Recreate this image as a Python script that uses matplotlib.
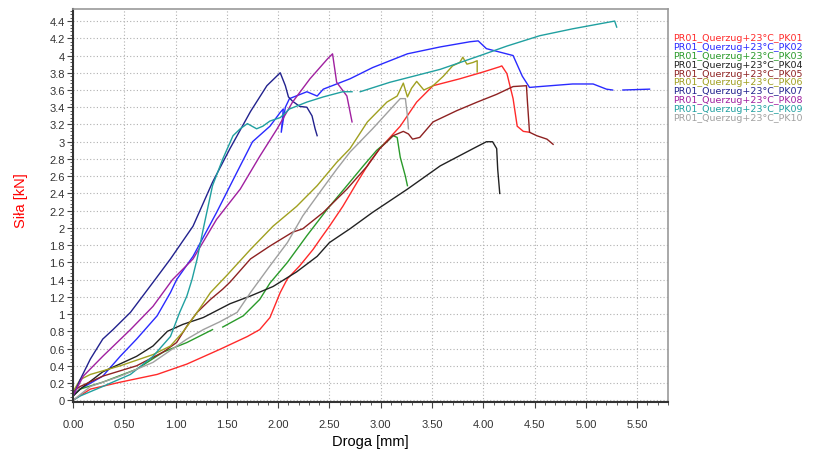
import numpy as np
import matplotlib
matplotlib.use("Agg")
import matplotlib.pyplot as plt
from matplotlib.ticker import AutoMinorLocator, MultipleLocator, FuncFormatter

plt.rcParams["font.family"] = ["Liberation Sans", "DejaVu Sans"]

nan = np.nan

# Droga [mm] / Siła [kN]
pk01_x = [0.00, 0.17, 0.46, 0.82, 1.11, 1.43, 1.70, 1.82, 1.92, 2.02, 2.09, 2.21, 2.34, 2.41, 2.50, 2.63, 2.77, 2.89, 2.99, 3.19, 3.35, 3.51, 3.77, 4.00, 4.16, 4.18, 4.23, 4.29, 4.33, 4.39, 4.45]
pk01_y = [0.00, 0.13, 0.21, 0.30, 0.42, 0.59, 0.74, 0.82, 0.96, 1.25, 1.41, 1.56, 1.75, 1.87, 2.02, 2.25, 2.53, 2.76, 2.92, 3.18, 3.46, 3.65, 3.73, 3.81, 3.87, 3.88, 3.79, 3.50, 3.18, 3.12, 3.11]

pk02_x = [0.00, 0.07, 0.29, 0.46, 0.62, 0.82, 0.95, 1.01, 1.17, 1.40, 1.60, 1.75, 1.92, 2.02, 2.05, 2.03, 2.07, 2.11, 2.28, 2.38, 2.44, 2.57, 2.70, 2.92, 3.26, 3.58, 3.87, 3.95, 4.03, 4.29, 4.38, 4.45, 4.55, 4.87, 5.07, 5.20, 5.26, nan, 5.36, 5.62]
pk02_y = [0.05, 0.13, 0.28, 0.51, 0.71, 0.98, 1.25, 1.40, 1.67, 2.18, 2.65, 3.00, 3.18, 3.34, 3.38, 3.11, 3.40, 3.50, 3.58, 3.53, 3.61, 3.67, 3.73, 3.86, 4.02, 4.10, 4.16, 4.17, 4.08, 4.00, 3.76, 3.63, 3.64, 3.67, 3.67, 3.61, 3.60, nan, 3.60, 3.61]

pk03_x = [0.00, 0.07, 0.29, 0.62, 0.88, 1.11, 1.36, nan, 1.46, 1.66, 1.82, 1.92, 2.09, 2.28, 2.48, 2.67, 2.83, 2.96, 3.06, 3.12, 3.16, 3.19, 3.24, 3.26]
pk03_y = [0.05, 0.13, 0.21, 0.36, 0.56, 0.67, 0.82, nan, 0.85, 0.98, 1.17, 1.36, 1.60, 1.91, 2.22, 2.49, 2.72, 2.90, 3.00, 3.07, 3.05, 2.82, 2.60, 2.49]

pk04_x = [0.00, 0.07, 0.29, 0.62, 0.78, 0.92, 1.07, 1.27, 1.53, 1.73, 1.95, 2.18, 2.38, 2.50, 2.70, 2.92, 3.26, 3.58, 3.90, 4.03, 4.09, 4.13, 4.14, 4.16]
pk04_y = [0.05, 0.13, 0.33, 0.51, 0.63, 0.80, 0.88, 0.96, 1.12, 1.21, 1.32, 1.49, 1.67, 1.83, 1.99, 2.18, 2.45, 2.72, 2.92, 3.00, 3.00, 2.92, 2.68, 2.40]

pk05_x = [0.00, 0.07, 0.29, 0.62, 0.88, 1.01, 1.11, 1.21, 1.34, 1.46, 1.53, 1.73, 1.92, 2.14, 2.24, 2.44, 2.67, 2.87, 2.99, 3.12, 3.22, 3.27, 3.31, 3.38, 3.51, 3.74, 3.94, 4.13, 4.29, 4.42, 4.43, 4.45, 4.52, 4.62, 4.68]
pk05_y = [0.10, 0.16, 0.28, 0.40, 0.56, 0.67, 0.86, 1.02, 1.17, 1.29, 1.37, 1.64, 1.79, 1.95, 1.99, 2.18, 2.45, 2.72, 2.92, 3.07, 3.12, 3.09, 3.03, 3.05, 3.23, 3.36, 3.46, 3.55, 3.64, 3.65, 3.46, 3.11, 3.07, 3.03, 2.97]

pk06_x = [0.00, 0.07, 0.17, 0.46, 0.78, 0.95, 1.07, 1.21, 1.34, 1.50, 1.73, 1.95, 2.18, 2.38, 2.57, 2.70, 2.87, 3.06, 3.16, 3.22, 3.26, 3.30, 3.35, 3.42, 3.51, 3.61, 3.70, 3.77, 3.80, 3.84, 3.90, 3.94, 3.94]
pk06_y = [0.10, 0.24, 0.30, 0.40, 0.53, 0.63, 0.79, 1.02, 1.25, 1.45, 1.75, 2.02, 2.25, 2.49, 2.76, 2.92, 3.23, 3.46, 3.53, 3.68, 3.52, 3.62, 3.70, 3.60, 3.65, 3.76, 3.88, 3.92, 3.98, 3.90, 3.92, 3.94, 3.81]

pk07_x = [0.00, 0.07, 0.17, 0.29, 0.39, 0.56, 0.80, 0.95, 1.17, 1.36, 1.53, 1.73, 1.89, 2.02, 2.07, 2.10, 2.14, 2.21, 2.28, 2.33, 2.36, 2.38]
pk07_y = [0.05, 0.24, 0.48, 0.71, 0.82, 1.02, 1.40, 1.64, 2.02, 2.53, 2.92, 3.35, 3.65, 3.80, 3.65, 3.52, 3.47, 3.41, 3.40, 3.30, 3.15, 3.07]

pk08_x = [0.00, 0.10, 0.29, 0.56, 0.78, 0.97, 1.17, 1.40, 1.63, 1.82, 1.99, 2.14, 2.31, 2.48, 2.53, 2.57, 2.67, 2.72]
pk08_y = [0.05, 0.28, 0.51, 0.82, 1.09, 1.40, 1.64, 2.10, 2.45, 2.83, 3.15, 3.46, 3.73, 3.96, 4.02, 3.69, 3.53, 3.23]

pk09_x = [0.00, 0.07, 0.29, 0.56, 0.78, 0.95, 1.04, 1.11, 1.16, 1.21, 1.27, 1.36, 1.46, 1.56, 1.63, 1.70, 1.79, 1.85, 1.92, 2.02, 2.11, 2.28, 2.44, 2.63, 2.72, nan, 2.80, 3.09, 3.58, 3.97, 4.23, 4.55, 4.87, 5.28, 5.30]
pk09_y = [0.00, 0.05, 0.16, 0.30, 0.51, 0.74, 1.02, 1.21, 1.40, 1.64, 1.99, 2.49, 2.80, 3.07, 3.15, 3.21, 3.15, 3.18, 3.24, 3.28, 3.38, 3.46, 3.52, 3.58, 3.58, nan, 3.58, 3.69, 3.84, 4.00, 4.11, 4.23, 4.31, 4.40, 4.33]

pk10_x = [0.00, 0.17, 0.46, 0.78, 1.11, 1.27, 1.43, 1.60, 1.73, 1.92, 2.09, 2.24, 2.41, 2.57, 2.70, 2.92, 3.12, 3.19, 3.24, 3.26, 3.27]
pk10_y = [0.00, 0.16, 0.28, 0.44, 0.71, 0.82, 0.91, 1.02, 1.25, 1.56, 1.83, 2.14, 2.42, 2.68, 2.88, 3.15, 3.41, 3.50, 3.50, 3.30, 3.15]

labels = [f"PR01_Querzug+23°C_PK{i:02d}" for i in range(1, 11)]
series_x = [pk01_x, pk02_x, pk03_x, pk04_x, pk05_x, pk06_x, pk07_x, pk08_x, pk09_x, pk10_x]
series_y = [pk01_y, pk02_y, pk03_y, pk04_y, pk05_y, pk06_y, pk07_y, pk08_y, pk09_y, pk10_y]
colors = ["#ff2a2a", "#2a2aff", "#2a9a2a", "#222222", "#8e2222",
          "#a0a020", "#22228e", "#a020a0", "#20a0a0", "#a0a0a0"]

fig = plt.figure(figsize=(8.21, 4.52), dpi=100)
ax = fig.add_axes([73 / 821, 49 / 452, (668 - 73) / 821, (403 - 10) / 452])

for x, y, c, lab in zip(series_x, series_y, colors, labels):
    ax.plot(x, y, color=c, lw=1.0, label=lab)

ax.set_xlim(0, 5.80)
ax.set_ylim(-0.02, 4.54)
ax.xaxis.set_major_locator(MultipleLocator(0.5))
ax.xaxis.set_minor_locator(AutoMinorLocator(5))
ax.yaxis.set_major_locator(MultipleLocator(0.2))
ax.yaxis.set_minor_locator(AutoMinorLocator(5))
ax.xaxis.set_major_formatter(FuncFormatter(lambda v, p: f"{v:.2f}"))
ax.yaxis.set_major_formatter(FuncFormatter(lambda v, p: f"{v:g}" if abs(v) > 1e-9 else "0"))
ax.tick_params(which="both", direction="out", labelsize=8, colors="#444444", labelcolor="#333333")
ax.tick_params(which="major", length=4)
ax.tick_params(which="minor", length=2)
ax.tick_params(axis="x", which="major", pad=8)
ax.tick_params(axis="y", which="major", pad=2)
ax.grid(True, which="major", ls=(0, (1, 2)), color="#b0b0b0", lw=0.8)

for side in ["left", "bottom"]:
    ax.spines[side].set_color("#333333")
    ax.spines[side].set_linewidth(1.5)
for side in ["top", "right"]:
    ax.spines[side].set_color("#999999")
    ax.spines[side].set_linewidth(1.2)

ax.set_xlabel("Droga [mm]", fontsize=10.5, labelpad=4)
ax.set_ylabel("Siła [kN]", fontsize=10.5, color="red")
ax.yaxis.set_label_coords(-0.075, 0.515)

leg = ax.legend(loc="upper left", bbox_to_anchor=(0.997, 0.955), frameon=False,
                handlelength=0, handletextpad=0, labelspacing=-0.02,
                prop={"family": "DejaVu Sans", "size": 6.8},
                labelcolor="linecolor", borderpad=0.2)
for h in leg.legend_handles:
    h.set_visible(False)

fig.savefig("out.png", dpi=100)
